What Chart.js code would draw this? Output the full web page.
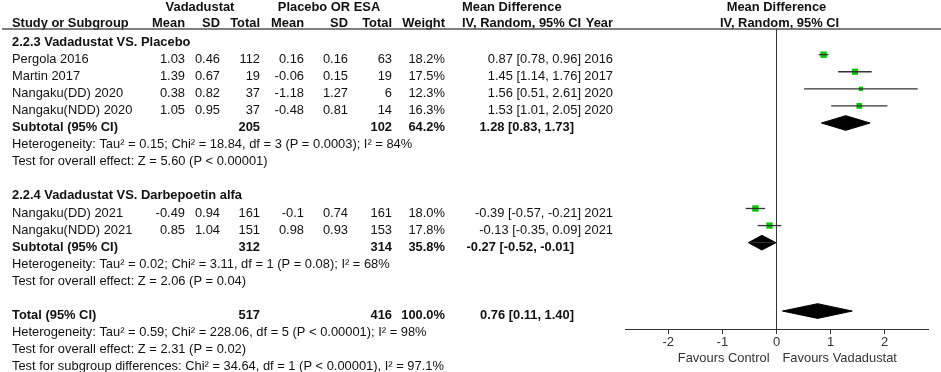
<!DOCTYPE html>
<html>
<head>
<meta charset="utf-8">
<script src="https://cdn.jsdelivr.net/npm/chart.js@4.4.1/dist/chart.umd.min.js"></script>
<style>
  body { margin: 0; background: #fff; }
  canvas { display: block; }
</style>
</head>
<body>
<canvas id="forest" width="941" height="372"></canvas>
<script>
// forest plot: vadadustat vs placebo / darbepoetin alfa

// STUDY DATA
const studyNames = ['Pergola 2016', 'Martin 2017', 'Nangaku(DD) 2020', 'Nangaku(NDD) 2020', 'Nangaku(DD) 2021', 'Nangaku(NDD) 2021'];
const studyGroup = [0, 0, 0, 0, 1, 1];
const vMean  = [1.03, 1.39, 0.38, 1.05, -0.49, 0.85];
const vSD    = [0.46, 0.67, 0.82, 0.95, 0.94, 1.04];
const vTotal = [112, 19, 37, 37, 161, 151];
const pMean  = [0.16, -0.06, -1.18, -0.48, -0.1, 0.98];
const pSD    = [0.16, 0.15, 1.27, 0.81, 0.74, 0.93];
const pTotal = [63, 19, 6, 14, 161, 153];
const weight = [18.2, 17.5, 12.3, 16.3, 18.0, 17.8];
const md     = [0.87, 1.45, 1.56, 1.53, -0.39, -0.13];
const ciLow  = [0.78, 1.14, 0.51, 1.01, -0.57, -0.35];
const ciHigh = [0.96, 1.76, 2.61, 2.05, -0.21, 0.09];
const year   = [2016, 2017, 2020, 2020, 2021, 2021];

// SUBGROUPS + OVERALL
const groupTitles = ['2.2.3 Vadadustat VS. Placebo', '2.2.4 Vadadustat VS. Darbepoetin alfa'];
const sumLabels = ['Subtotal (95% CI)', 'Subtotal (95% CI)', 'Total (95% CI)'];
const sumVTotal = [205, 312, 517];
const sumPTotal = [102, 314, 416];
const sumWeight = [64.2, 35.8, 100.0];
const sumMd     = [1.28, -0.27, 0.76];
const sumLow    = [0.83, -0.52, 0.11];
const sumHigh   = [1.73, -0.01, 1.40];
const sumNotes = [
  ['Heterogeneity: Tau\u00b2 = 0.15; Chi\u00b2 = 18.84, df = 3 (P = 0.0003); I\u00b2 = 84%',
   'Test for overall effect: Z = 5.60 (P < 0.00001)'],
  ['Heterogeneity: Tau\u00b2 = 0.02; Chi\u00b2 = 3.11, df = 1 (P = 0.08); I\u00b2 = 68%',
   'Test for overall effect: Z = 2.06 (P = 0.04)'],
  ['Heterogeneity: Tau\u00b2 = 0.59; Chi\u00b2 = 228.06, df = 5 (P < 0.00001); I\u00b2 = 98%',
   'Test for overall effect: Z = 2.31 (P = 0.02)',
   'Test for subgroup differences: Chi\u00b2 = 34.64, df = 1 (P < 0.00001), I\u00b2 = 97.1%']
];

// AXIS
const xTicks = [-2, -1, 0, 1, 2];
const xMin = -2.8;
const xMax = 2.8;
const favours = ['Favours Control', 'Favours Vadadustat'];

const FONT = '"Liberation Sans", Arial, sans-serif';
const FSIZE = 12.9;
const GREEN = '#00c800';
const INK = '#111';

// BUILD ROW LAYOUT (row index = line in the table)
const studyRow = [];
const sumRow = [];
const lines = []; // {row, kind, ...}
let r = 0;
groupTitles.forEach((title, g) => {
  lines.push({ row: r++, kind: 'title', text: title });
  studyGroup.forEach((sg, i) => {
    if (sg === g) { studyRow[i] = r; lines.push({ row: r++, kind: 'study', i }); }
  });
  sumRow[g] = r;
  lines.push({ row: r++, kind: 'sum', i: g });
  sumNotes[g].forEach(t => lines.push({ row: r++, kind: 'note', text: t }));
  r++; // blank line
});
sumRow[2] = r;
lines.push({ row: r++, kind: 'sum', i: 2 });
sumNotes[2].forEach(t => lines.push({ row: r++, kind: 'note', text: t }));

// DATASETS
const datasets = [];

// confidence interval whiskers
studyNames.forEach((n, i) => {
  datasets.push({
    data: [{ x: ciLow[i], y: studyRow[i] }, { x: ciHigh[i], y: studyRow[i] }],
    showLine: true, borderColor: '#333', borderWidth: 1.3, pointRadius: 0
  });
});

// weighted squares
datasets.push({
  data: md.map((v, i) => ({ x: v, y: studyRow[i] })),
  pointStyle: 'rect',
  pointRadius: weight.map(w => w * 0.25),
  backgroundColor: GREEN, borderColor: GREEN, borderWidth: 0
});

// diamonds (upper + lower half, filled to the row line)
const DH = 0.43;
sumMd.forEach((m, k) => {
  [-DH, DH].forEach(h => {
    datasets.push({
      data: [{ x: sumLow[k], y: sumRow[k] }, { x: m, y: sumRow[k] + h }, { x: sumHigh[k], y: sumRow[k] }],
      showLine: true, borderColor: '#000', borderWidth: 1, pointRadius: 0,
      backgroundColor: '#000', fill: { value: sumRow[k] }
    });
  });
});

// TABLE TEXT PLUGIN
const COLS = { study: 12, vMean: 185, vSD: 220, vTotal: 260, pMean: 304, pSD: 348, pTotal: 392, weight: 445, md: 581, year: 613 };

function ci(m, lo, hi) {
  return m.toFixed(2) + ' [' + lo.toFixed(2) + ', ' + hi.toFixed(2) + ']';
}

const tablePlugin = {
  id: 'table',
  afterDraw(chart) {
    const { ctx } = chart;
    const y = chart.scales.y;
    const x = chart.scales.x;
    const rowY = row => y.getPixelForValue(row) + 4.5;
    const put = (t, px, py, align, bold) => {
      ctx.font = (bold ? 'bold ' : '') + FSIZE + 'px ' + FONT;
      ctx.textAlign = align;
      ctx.fillText(t, px, py);
    };
    ctx.save();
    ctx.fillStyle = INK;
    ctx.textBaseline = 'middle';

    // headers
    const h1 = 7, h2 = 23.5;
    put('Vadadustat', 200, h1, 'center', true);
    put('Placebo OR ESA', 329, h1, 'center', true);
    put('Mean Difference', 462, h1, 'left', true);
    put('Mean Difference', x.getPixelForValue(0), h1, 'center', true);
    put('Study or Subgroup', COLS.study, h2, 'left', true);
    put('Mean', COLS.vMean, h2, 'right', true);
    put('SD', COLS.vSD, h2, 'right', true);
    put('Total', COLS.vTotal, h2, 'right', true);
    put('Mean', COLS.pMean, h2, 'right', true);
    put('SD', COLS.pSD, h2, 'right', true);
    put('Total', COLS.pTotal, h2, 'right', true);
    put('Weight', COLS.weight, h2, 'right', true);
    put('IV, Random, 95% CI', 462, h2, 'left', true);
    put('Year', COLS.year, h2, 'right', true);
    put('IV, Random, 95% CI', x.getPixelForValue(0) + 3, h2, 'center', true);

    // header rule
    ctx.strokeStyle = '#555';
    ctx.lineWidth = 1.6;
    ctx.beginPath();
    ctx.moveTo(2, chart.chartArea.top);
    ctx.lineTo(941, chart.chartArea.top);
    ctx.stroke();

    lines.forEach(l => {
      const py = rowY(l.row);
      if (l.kind === 'title') put(l.text, COLS.study, py, 'left', true);
      else if (l.kind === 'note') put(l.text, COLS.study, py, 'left', false);
      else if (l.kind === 'study') {
        const i = l.i;
        put(studyNames[i], COLS.study, py, 'left');
        put(String(vMean[i]), COLS.vMean, py, 'right');
        put(String(vSD[i]), COLS.vSD, py, 'right');
        put(String(vTotal[i]), COLS.vTotal, py, 'right');
        put(String(pMean[i]), COLS.pMean, py, 'right');
        put(String(pSD[i]), COLS.pSD, py, 'right');
        put(String(pTotal[i]), COLS.pTotal, py, 'right');
        put(weight[i].toFixed(1) + '%', COLS.weight, py, 'right');
        put(ci(md[i], ciLow[i], ciHigh[i]), COLS.md, py, 'right');
        put(String(year[i]), COLS.year, py, 'right');
      } else if (l.kind === 'sum') {
        const k = l.i;
        put(sumLabels[k], COLS.study, py, 'left', true);
        put(String(sumVTotal[k]), COLS.vTotal, py, 'right', true);
        put(String(sumPTotal[k]), COLS.pTotal, py, 'right', true);
        put(sumWeight[k].toFixed(1) + '%', COLS.weight, py, 'right', true);
        put(ci(sumMd[k], sumLow[k], sumHigh[k]), COLS.md - 7, py, 'right', true);
      }
    });

    // favours labels under the axis
    const x0 = x.getPixelForValue(0);
    const fy = chart.chartArea.bottom + 29;
    ctx.fillStyle = '#333';
    put(favours[0], x0 - 7, fy, 'right');
    put(favours[1], x0 + 6, fy, 'left');
    ctx.restore();
  }
};

// BUILD CHART
function init() {
  new Chart(document.getElementById('forest'), {
    type: 'scatter',
    data: { datasets },
    options: {
      responsive: false,
      animation: false,
      layout: { padding: { left: 625, right: 13, top: 29, bottom: 0 } },
      plugins: { legend: { display: false }, tooltip: { enabled: false } },
      scales: {
        x: {
          type: 'linear', min: xMin, max: xMax,
          afterBuildTicks: s => { s.ticks = xTicks.map(v => ({ value: v })); },
          afterFit: s => { s.height = 43; },
          border: { display: true, color: '#333', width: 1 },
          grid: {
            drawOnChartArea: true, drawTicks: true, tickLength: 5,
            color: c => (c.tick && c.tick.value === 0 ? '#333' : 'rgba(0,0,0,0)'),
            tickColor: '#333'
          },
          ticks: { color: '#333', font: { family: FONT, size: 13 }, padding: 1, includeBounds: false }
        },
        y: {
          type: 'linear', reverse: true, min: -0.5, max: 17.05, display: false
        }
      }
    },
    plugins: [tablePlugin]
  });
}

document.addEventListener('DOMContentLoaded', init);
</script>
</body>
</html>
